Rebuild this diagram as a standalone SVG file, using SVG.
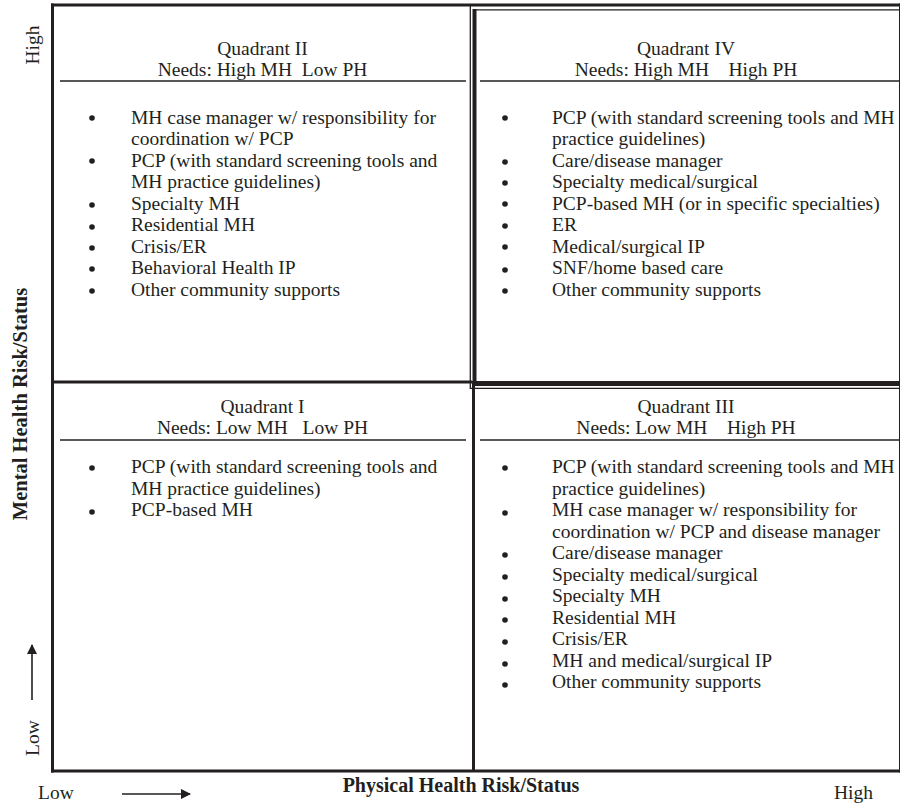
<svg xmlns="http://www.w3.org/2000/svg" width="900" height="803" viewBox="0 0 900 803">
<defs>
<style>
text{font-family:"Liberation Serif","Times New Roman",serif;fill:#231f20;font-size:19.5px}
.c{text-anchor:middle}
.b{font-weight:bold;font-size:20px}
.ln{stroke:#231f20;fill:none}
.dot{fill:#231f20}
</style>
<marker id="ah" viewBox="0 0 10 10" refX="9" refY="5" markerWidth="11" markerHeight="10" markerUnits="userSpaceOnUse" orient="auto">
<path d="M0,0 L10,5 L0,10 z" fill="#231f20"/>
</marker>
</defs>
<rect width="900" height="803" fill="#fff"/>

<g id="connectors">
<line class="ln" x1="51" y1="5" x2="900" y2="5" stroke-width="3"/>
<line class="ln" x1="52.5" y1="3.5" x2="52.5" y2="772.5" stroke-width="3"/>
<line class="ln" x1="51" y1="771" x2="900" y2="771" stroke-width="3"/>
<line class="ln" x1="900.5" y1="3.5" x2="900.5" y2="772.5" stroke-width="3"/>
<line class="ln" x1="52" y1="382" x2="472" y2="382" stroke-width="3"/>
<line class="ln" x1="473.5" y1="386" x2="473.5" y2="771" stroke-width="3"/>
<line class="ln" x1="470.3" y1="4" x2="470.3" y2="389" stroke-width="1.3"/>
<line class="ln" x1="474.5" y1="9" x2="474.5" y2="386" stroke-width="4"/>
<line class="ln" x1="474" y1="9.8" x2="900" y2="9.8" stroke-width="1.3"/>
<line class="ln" x1="472" y1="383.5" x2="900" y2="383.5" stroke-width="5"/>
<line class="ln" x1="470" y1="388.3" x2="900" y2="388.3" stroke-width="1.3"/>
<line class="ln" x1="60" y1="81" x2="466" y2="81" stroke-width="1.3"/>
<line class="ln" x1="480" y1="81" x2="900" y2="81" stroke-width="1.3"/>
<line class="ln" x1="60" y1="440" x2="466" y2="440" stroke-width="1.3"/>
<line class="ln" x1="480" y1="440" x2="900" y2="440" stroke-width="1.3"/>
<line class="ln" x1="32" y1="700" x2="32" y2="645" stroke-width="1.6" marker-end="url(#ah)"/>
<line class="ln" x1="122" y1="794" x2="190" y2="794" stroke-width="1.6" marker-end="url(#ah)"/>
</g>

<g id="axis-labels">
<text class="c" transform="translate(39,45) rotate(-90)">High</text>
<text class="c b" transform="translate(26.5,404) rotate(-90)" style="font-size:20.5px">Mental Health Risk/Status</text>
<text class="c" transform="translate(39,738) rotate(-90)">Low</text>
<text x="38" y="799">Low</text>
<text class="c b" x="461" y="792">Physical Health Risk/Status</text>
<text x="834" y="799">High</text>
</g>

<g id="quadrant-2">
<text class="c" x="262.5" y="55">Quadrant II</text>
<text class="c" x="262.5" y="75.5" xml:space="preserve">Needs: High MH  Low PH</text>
<circle class="dot" cx="92" cy="118" r="2.8"/>
<text x="131" y="123.5">MH case manager w/ responsibility for</text>
<text x="131" y="145">coordination w/ PCP</text>
<circle class="dot" cx="92" cy="161" r="2.8"/>
<text x="131" y="166.5">PCP (with standard screening tools and</text>
<text x="131" y="188">MH practice guidelines)</text>
<circle class="dot" cx="92" cy="205" r="2.8"/>
<text x="131" y="209.5">Specialty MH</text>
<circle class="dot" cx="92" cy="227" r="2.8"/>
<text x="131" y="231">Residential MH</text>
<circle class="dot" cx="92" cy="248" r="2.8"/>
<text x="131" y="252.5">Crisis/ER</text>
<circle class="dot" cx="92" cy="269" r="2.8"/>
<text x="131" y="274">Behavioral Health IP</text>
<circle class="dot" cx="92" cy="291" r="2.8"/>
<text x="131" y="295.5">Other community supports</text>
</g>

<g id="quadrant-4">
<text class="c" x="686" y="55">Quadrant IV</text>
<text class="c" x="686" y="75.5" xml:space="preserve">Needs: High MH    High PH</text>
<circle class="dot" cx="505" cy="118" r="2.8"/>
<text x="552" y="123.5">PCP (with standard screening tools and MH</text>
<text x="552" y="145">practice guidelines)</text>
<circle class="dot" cx="505" cy="162" r="2.8"/>
<text x="552" y="166.5">Care/disease manager</text>
<circle class="dot" cx="505" cy="183" r="2.8"/>
<text x="552" y="188">Specialty medical/surgical</text>
<circle class="dot" cx="505" cy="204" r="2.8"/>
<text x="552" y="209.5">PCP-based MH (or in specific specialties)</text>
<circle class="dot" cx="505" cy="226" r="2.8"/>
<text x="552" y="231">ER</text>
<circle class="dot" cx="505" cy="247" r="2.8"/>
<text x="552" y="252.5">Medical/surgical IP</text>
<circle class="dot" cx="505" cy="270" r="2.8"/>
<text x="552" y="274">SNF/home based care</text>
<circle class="dot" cx="505" cy="291" r="2.8"/>
<text x="552" y="295.5">Other community supports</text>
</g>

<g id="quadrant-1">
<text class="c" x="262.5" y="412.5">Quadrant I</text>
<text class="c" x="262.5" y="433.5" xml:space="preserve">Needs: Low MH   Low PH</text>
<circle class="dot" cx="92" cy="468" r="2.8"/>
<text x="131" y="473">PCP (with standard screening tools and</text>
<text x="131" y="494.5">MH practice guidelines)</text>
<circle class="dot" cx="92" cy="512" r="2.8"/>
<text x="131" y="516">PCP-based MH</text>
</g>

<g id="quadrant-3">
<text class="c" x="686" y="412.5">Quadrant III</text>
<text class="c" x="686" y="433.5" xml:space="preserve">Needs: Low MH    High PH</text>
<circle class="dot" cx="505" cy="468" r="2.8"/>
<text x="552" y="473">PCP (with standard screening tools and MH</text>
<text x="552" y="494.5">practice guidelines)</text>
<circle class="dot" cx="505" cy="513" r="2.8"/>
<text x="552" y="516">MH case manager w/ responsibility for</text>
<text x="552" y="537.5">coordination w/ PCP and disease manager</text>
<circle class="dot" cx="505" cy="555" r="2.8"/>
<text x="552" y="559">Care/disease manager</text>
<circle class="dot" cx="505" cy="577" r="2.8"/>
<text x="552" y="580.5">Specialty medical/surgical</text>
<circle class="dot" cx="505" cy="599" r="2.8"/>
<text x="552" y="602">Specialty MH</text>
<circle class="dot" cx="505" cy="620" r="2.8"/>
<text x="552" y="623.5">Residential MH</text>
<circle class="dot" cx="505" cy="642" r="2.8"/>
<text x="552" y="645">Crisis/ER</text>
<circle class="dot" cx="505" cy="664" r="2.8"/>
<text x="552" y="666.5">MH and medical/surgical IP</text>
<circle class="dot" cx="505" cy="685" r="2.8"/>
<text x="552" y="688">Other community supports</text>
</g>
</svg>
